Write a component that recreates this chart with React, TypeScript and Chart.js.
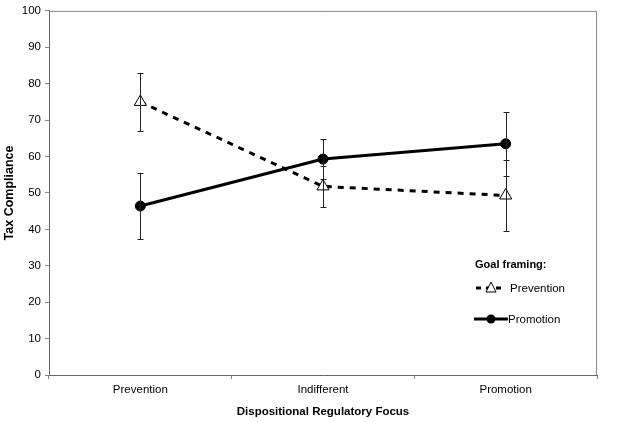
import { useEffect, useRef } from "react";
import { Chart, registerables } from "chart.js";

Chart.register(...registerables);

const categories = ["Prevention", "Indifferent", "Promotion"];
const preventionFraming = [75, 51.8, 49.3];
const preventionErr = [8, 5.6, 9.8];
const promotionFraming = [46.4, 59.3, 63.5];
const promotionErr = [9, 5.5, 8.8];
const legendTitle = "Goal framing:";
const seriesNames = ["Prevention", "Promotion"];

const FONT = "'Liberation Sans', Arial, Helvetica, sans-serif";

const errorBarPlugin = {
  id: "errorBars",
  afterDatasetsDraw(chart: any) {
    const ctx = chart.ctx;
    const y = chart.scales.y;
    const errs = [preventionErr, promotionErr];
    ctx.save();
    ctx.strokeStyle = "#222";
    ctx.lineWidth = 1;
    chart.data.datasets.forEach((ds: any, di: number) => {
      const meta = chart.getDatasetMeta(di);
      meta.data.forEach((pt: any, i: number) => {
        const v = ds.data[i];
        const e = errs[di][i];
        const x = Math.round(pt.x) + 0.5;
        const yt = Math.round(y.getPixelForValue(v + e)) + 0.5;
        const yb = Math.round(y.getPixelForValue(v - e)) + 0.5;
        ctx.beginPath();
        ctx.moveTo(x, yt);
        ctx.lineTo(x, yb);
        ctx.moveTo(x - 3, yt);
        ctx.lineTo(x + 3, yt);
        ctx.moveTo(x - 3, yb);
        ctx.lineTo(x + 3, yb);
        ctx.stroke();
      });
    });
    ctx.restore();
  },
};

const framePlugin = {
  id: "frame",
  beforeDatasetsDraw(chart: any) {
    const { ctx, chartArea } = chart;
    ctx.save();
    ctx.strokeStyle = "#888";
    ctx.lineWidth = 1;
    ctx.beginPath();
    ctx.moveTo(chartArea.left, chartArea.top + 0.5);
    ctx.lineTo(chartArea.right - 0.5, chartArea.top + 0.5);
    ctx.lineTo(chartArea.right - 0.5, chartArea.bottom);
    ctx.stroke();
    ctx.restore();
  },
};

const legendPlugin = {
  id: "customLegend",
  afterDraw(chart: any) {
    const ctx = chart.ctx;
    ctx.save();
    ctx.fillStyle = "#000";
    ctx.textBaseline = "middle";
    ctx.font = `bold 11px ${FONT}`;
    ctx.fillText(legendTitle, 475, 265);
    // Prevention row
    ctx.strokeStyle = "#000";
    ctx.lineWidth = 3;
    ctx.setLineDash([5, 5]);
    ctx.beginPath();
    ctx.moveTo(476, 288);
    ctx.lineTo(506, 288);
    ctx.stroke();
    ctx.setLineDash([]);
    ctx.lineWidth = 1;
    ctx.fillStyle = "#fff";
    ctx.beginPath();
    ctx.moveTo(491, 282);
    ctx.lineTo(496, 292);
    ctx.lineTo(486, 292);
    ctx.closePath();
    ctx.fill();
    ctx.stroke();
    ctx.fillStyle = "#000";
    ctx.font = `11.5px ${FONT}`;
    ctx.fillText(seriesNames[0], 510, 289);
    // Promotion row
    ctx.lineWidth = 3;
    ctx.beginPath();
    ctx.moveTo(474, 319);
    ctx.lineTo(508, 319);
    ctx.stroke();
    ctx.beginPath();
    ctx.arc(491, 319, 4.5, 0, Math.PI * 2);
    ctx.fill();
    ctx.fillText(seriesNames[1], 508, 320);
    ctx.restore();
  },
};

export default function App() {
  const ref = useRef<HTMLCanvasElement>(null);
  useEffect(() => {
    if (!ref.current) return;
    const chart = new Chart(ref.current, {
      type: "line",
      data: {
        labels: categories,
        datasets: [
          {
            label: seriesNames[0],
            data: preventionFraming,
            borderColor: "#000",
            borderWidth: 3,
            borderDash: [6, 6],
            pointStyle: "triangle",
            pointRadius: 7,
            pointBorderWidth: 1,
            pointBackgroundColor: "#fff",
            pointBorderColor: "#000",
            tension: 0,
          },
          {
            label: seriesNames[1],
            data: promotionFraming,
            borderColor: "#000",
            borderWidth: 3,
            pointStyle: "circle",
            pointRadius: 5,
            pointBorderWidth: 1,
            pointBackgroundColor: "#000",
            pointBorderColor: "#000",
            tension: 0,
          },
        ],
      },
      options: {
        animation: false,
        responsive: false,
        layout: { padding: { left: 0, top: 9, right: 21, bottom: 0 } },
        plugins: { legend: { display: false }, tooltip: { enabled: false } },
        scales: {
          x: {
            offset: true,
            grid: {
              offset: true,
              drawOnChartArea: false,
              tickLength: 4,
              color: "#888",
            },
            border: { color: "#666" },
            ticks: { color: "#000", font: { family: FONT, size: 11.5 }, padding: 4 },
            title: {
              display: true,
              text: "Dispositional Regulatory Focus",
              color: "#000",
              font: { family: FONT, size: 11.5, weight: "bold" },
              padding: { top: 2, bottom: 3 },
            },
            afterFit: (s: any) => {
              s.height = 47;
            },
          },
          y: {
            min: 0,
            max: 100,
            ticks: {
              stepSize: 10,
              color: "#000",
              font: { family: FONT, size: 11.5 },
              padding: 4,
            },
            grid: { drawOnChartArea: false, tickLength: 4, color: "#888" },
            border: { color: "#666" },
            title: {
              display: true,
              text: "Tax Compliance",
              color: "#000",
              font: { family: FONT, size: 12.5, weight: "bold" },
              padding: { top: 2, bottom: 0 },
            },
            afterFit: (s: any) => {
              s.width = 49;
            },
          },
        },
      },
      plugins: [framePlugin, errorBarPlugin, legendPlugin],
    });
    return () => chart.destroy();
  }, []);
  return (
    <div style={{ position: "fixed", left: 0, top: 0, width: 618, height: 422, background: "#fff" }}>
      <canvas ref={ref} width={618} height={422} style={{ display: "block" }} />
    </div>
  );
}
